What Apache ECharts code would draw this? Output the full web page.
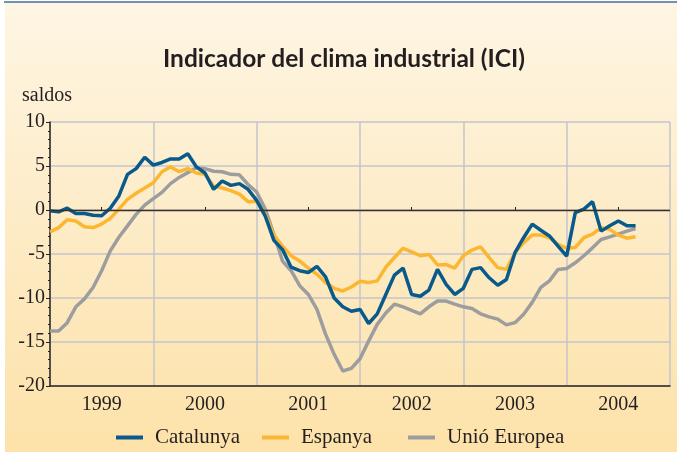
<!DOCTYPE html>
<html>
<head>
<meta charset="utf-8">
<script src="https://cdn.jsdelivr.net/npm/echarts@6/dist/echarts.min.js"></script>
<style>
  html, body { margin: 0; padding: 0; background: #fff; }
  #chart { width: 677px; height: 457px; }
</style>
</head>
<body>
<div id="chart"></div>
<script>
// monthly values, Jan 1999 .. Sep 2004 (index = month)
var years = ['1999', '2000', '2001', '2002', '2003', '2004'];
var catalunya = [
  -0.1, -0.2, 0.2, -0.4, -0.4, -0.6, -0.65, 0.2, 1.6, 4.05, 4.7, 6.0, 5.1,
  5.4, 5.8, 5.8, 6.4, 4.9, 4.2, 2.35, 3.3, 2.8, 3.0, 2.35, 1.1,
  -0.7, -3.45, -4.5, -6.5, -6.9, -7.1, -6.4, -7.6, -10.0, -11.0, -11.5, -11.3,
  -12.9, -11.8, -9.6, -7.4, -6.6, -9.6, -9.8, -9.1, -6.75, -8.45, -9.6, -8.9,
  -6.75, -6.55, -7.7, -8.55, -7.9, -4.85, -3.15, -1.6, -2.3, -2.95, -4.1, -5.25,
  -0.3, 0.1, 0.95, -2.4, -1.8, -1.25, -1.8, -1.8
];
var espanya = [
  -2.5, -2.0, -1.1, -1.25, -1.9, -2.0, -1.6, -0.95, 0.1, 1.2, 1.9, 2.5, 3.1,
  4.35, 4.9, 4.35, 4.7, 4.2, 4.05, 2.7, 2.5, 2.2, 1.8, 0.95, 1.0,
  -0.5, -2.85, -4.1, -5.2, -5.8, -6.6, -7.3, -8.25, -8.9, -9.2, -8.75, -8.1,
  -8.25, -8.05, -6.5, -5.4, -4.35, -4.75, -5.2, -5.05, -6.25, -6.2, -6.6, -5.2,
  -4.55, -4.2, -5.4, -6.55, -6.75, -4.85, -3.7, -2.85, -2.85, -3.15, -3.9, -4.35,
  -4.25, -3.15, -2.75, -2.0, -2.2, -2.85, -3.2, -3.05
];
var unioEuropea = [
  -13.75, -13.75, -12.8, -11.0, -10.1, -8.8, -6.9, -4.65, -3.1, -1.8, -0.5, 0.55, 1.3,
  2.0, 3.0, 3.7, 4.25, 4.8, 4.7, 4.4, 4.35, 4.05, 4.0, 2.9, 2.05,
  0.1, -2.75, -5.8, -6.9, -8.6, -9.6, -11.3, -14.1, -16.4, -18.3, -18.0, -16.9,
  -14.9, -13.0, -11.7, -10.7, -11.0, -11.4, -11.8, -11.0, -10.35, -10.35, -10.7, -11.0,
  -11.2, -11.8, -12.15, -12.4, -13.05, -12.8, -11.85, -10.5, -8.8, -8.05, -6.75, -6.65,
  -6.0, -5.2, -4.3, -3.35, -3.05, -2.75, -2.4, -2.1
];

var serif = 'Liberation Serif';
var gridColor = '#c3c5cb';
var darkColor = '#2b2520';
var textColor = '#231f20';

function pairs(arr) {
  return arr.map(function (v, i) { return [i, v]; });
}

function legendFor(name, left) {
  return {
    data: [name],
    left: left,
    top: 422,
    icon: 'rect',
    itemWidth: 27,
    itemHeight: 4,
    selectedMode: false,
    textStyle: { fontFamily: serif, fontSize: 21, color: textColor, padding: [0, 0, 0, 7] }
  };
}

var chart = echarts.init(document.getElementById('chart'));

chart.setOption({
  animation: false,
  backgroundColor: '#ffffff',
  graphic: [
    {
      type: 'rect', z: -10, silent: true,
      shape: { x: 5, y: 3, width: 672, height: 449 },
      style: {
        fill: new echarts.graphic.LinearGradient(0, 0, 0, 1, [
          { offset: 0, color: '#fef5e3' },
          { offset: 1, color: '#fde2a9' }
        ])
      }
    },
    {
      type: 'line', z: -9, silent: true,
      shape: { x1: 4, y1: 2, x2: 677, y2: 2 },
      style: { stroke: '#3e6f9e', lineWidth: 1.5 }
    },
    {
      type: 'text', silent: true, left: 22, top: 86,
      style: { text: 'saldos', fontFamily: serif, fontSize: 20, fill: textColor }
    }
  ],
  title: {
    text: 'Indicador del clima industrial (ICI)',
    left: 158,
    top: 42,
    textStyle: { fontFamily: 'Lato', fontWeight: 'bold', fontSize: 24.5, color: textColor }
  },
  legend: [
    legendFor('Catalunya', 111),
    legendFor('Espanya', 257),
    legendFor('Unió Europea', 403)
  ],
  grid: { left: 50, top: 122, right: 7, bottom: 71 },
  xAxis: [
    {
      type: 'value', min: 0, max: 72, interval: 12,
      axisLine: { show: true, onZero: false, lineStyle: { color: darkColor, width: 1.5 } },
      axisTick: { show: false },
      axisLabel: { show: false },
      splitLine: { show: true, lineStyle: { color: gridColor, width: 1.5 } }
    },
    {
      type: 'category', data: years, position: 'bottom', boundaryGap: true,
      axisLine: { show: false },
      axisTick: { show: true, alignWithLabel: true, inside: true, length: 3, lineStyle: { color: darkColor } },
      axisLabel: { fontFamily: serif, fontSize: 20, color: textColor, margin: 9 },
      splitLine: { show: false }
    }
  ],
  yAxis: {
    type: 'value', min: -20, max: 10, interval: 5,
    axisLine: { show: true, lineStyle: { color: darkColor, width: 1.5 } },
    axisTick: { show: true, length: 4, lineStyle: { color: darkColor } },
    minorTick: { show: true, splitNumber: 5, length: 2, lineStyle: { color: darkColor } },
    axisLabel: { fontFamily: serif, fontSize: 20, color: textColor, margin: 5 },
    splitLine: { show: true, lineStyle: { color: gridColor, width: 1.5 } }
  },
  series: [
    {
      name: 'Unió Europea', type: 'line', data: pairs(unioEuropea),
      symbol: 'none', color: '#9d9d9f',
      lineStyle: { width: 3.5, color: '#9d9d9f' },
      markLine: {
        silent: true, symbol: 'none', label: { show: false },
        lineStyle: { color: '#3a3026', width: 1.3, type: 'solid' },
        data: [{ yAxis: 0 }]
      }
    },
    {
      name: 'Espanya', type: 'line', data: pairs(espanya),
      symbol: 'none', color: '#fbb731',
      lineStyle: { width: 3.5, color: '#fbb731' }
    },
    {
      name: 'Catalunya', type: 'line', data: pairs(catalunya),
      symbol: 'none', color: '#085a8c',
      lineStyle: { width: 3.5, color: '#085a8c' }
    }
  ]
});
</script>
</body>
</html>
